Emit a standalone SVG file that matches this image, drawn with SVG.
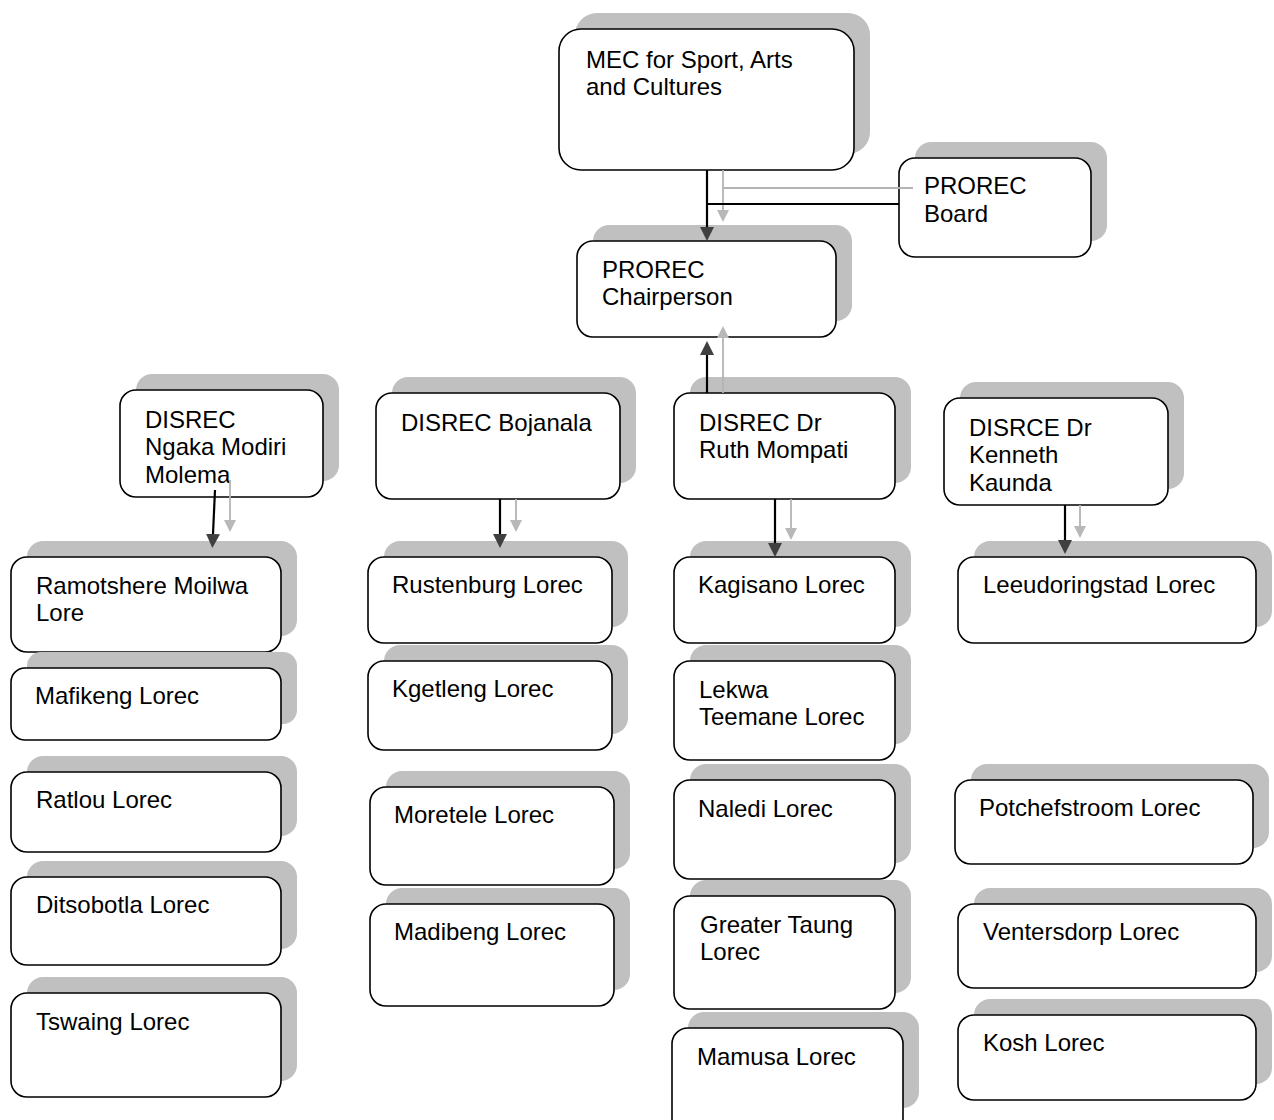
<svg xmlns="http://www.w3.org/2000/svg" width="1274" height="1120" viewBox="0 0 1274 1120">
<style>
.sh{fill:#c0c0c0}
.bx{fill:#fff;stroke:#000;stroke-width:1.6}
text{font-family:"Liberation Sans",Arial,sans-serif;font-size:24px;fill:#000}
.k{stroke:#000;stroke-width:2.2;fill:none}
.g{stroke:#b4b4b4;stroke-width:1.8;fill:none}
</style>
<defs>
<marker id="ak" markerUnits="userSpaceOnUse" markerWidth="14" markerHeight="14" refX="0" refY="7" orient="auto"><path d="M0,0 L14,7 L0,14 z" fill="#404040"/></marker>
<marker id="ag" markerUnits="userSpaceOnUse" markerWidth="12" markerHeight="12" refX="0" refY="6" orient="auto"><path d="M0,0 L12,6 L0,12 z" fill="#b8b8b8"/></marker>
</defs>
<rect width="1274" height="1120" fill="#fff"/>

<g id="mec"><rect class="sh" x="575" y="13" width="295" height="141" rx="22"/><rect class="bx" x="559" y="29" width="295" height="141" rx="22"/><text x="586" y="68">MEC for Sport, Arts</text><text x="586" y="95">and Cultures</text></g>
<g id="board"><rect class="sh" x="915" y="142" width="192" height="99" rx="16"/><rect class="bx" x="899" y="158" width="192" height="99" rx="16"/><text x="924" y="194">PROREC</text><text x="924" y="222">Board</text></g>
<g id="chair"><rect class="sh" x="593" y="225" width="259" height="96" rx="16"/><rect class="bx" x="577" y="241" width="259" height="96" rx="16"/><text x="602" y="278">PROREC</text><text x="602" y="305">Chairperson</text></g>

<g id="disrec-nmm"><rect class="sh" x="136" y="374" width="203" height="107" rx="16"/><rect class="bx" x="120" y="390" width="203" height="107" rx="16"/><text x="145" y="428">DISREC</text><text x="145" y="455">Ngaka Modiri</text><text x="145" y="483">Molema</text></g>
<g id="disrec-boj"><rect class="sh" x="392" y="377" width="244" height="106" rx="16"/><rect class="bx" x="376" y="393" width="244" height="106" rx="16"/><text x="401" y="431">DISREC Bojanala</text></g>
<g id="disrec-rm"><rect class="sh" x="690" y="377" width="221" height="106" rx="16"/><rect class="bx" x="674" y="393" width="221" height="106" rx="16"/><text x="699" y="431">DISREC Dr</text><text x="699" y="458">Ruth Mompati</text></g>
<g id="disrce-kk"><rect class="sh" x="960" y="382" width="224" height="107" rx="16"/><rect class="bx" x="944" y="398" width="224" height="107" rx="16"/><text x="969" y="436">DISRCE Dr</text><text x="969" y="463">Kenneth</text><text x="969" y="491">Kaunda</text></g>

<g id="ramotshere"><rect class="sh" x="27" y="541" width="270" height="95" rx="16"/><rect class="bx" x="11" y="557" width="270" height="95" rx="16"/><text x="36" y="594">Ramotshere Moilwa</text><text x="36" y="621">Lore</text></g>
<g id="mafikeng"><rect class="sh" x="27" y="652" width="270" height="72" rx="14"/><rect class="bx" x="11" y="668" width="270" height="72" rx="14"/><text x="35" y="704">Mafikeng Lorec</text></g>
<g id="ratlou"><rect class="sh" x="27" y="756" width="270" height="80" rx="16"/><rect class="bx" x="11" y="772" width="270" height="80" rx="16"/><text x="36" y="808">Ratlou Lorec</text></g>
<g id="ditsobotla"><rect class="sh" x="27" y="861" width="270" height="88" rx="16"/><rect class="bx" x="11" y="877" width="270" height="88" rx="16"/><text x="36" y="913">Ditsobotla Lorec</text></g>
<g id="tswaing"><rect class="sh" x="27" y="977" width="270" height="104" rx="16"/><rect class="bx" x="11" y="993" width="270" height="104" rx="16"/><text x="36" y="1030">Tswaing Lorec</text></g>

<g id="rustenburg"><rect class="sh" x="384" y="541" width="244" height="86" rx="16"/><rect class="bx" x="368" y="557" width="244" height="86" rx="16"/><text x="392" y="593">Rustenburg Lorec</text></g>
<g id="kgetleng"><rect class="sh" x="384" y="645" width="244" height="89" rx="16"/><rect class="bx" x="368" y="661" width="244" height="89" rx="16"/><text x="392" y="697">Kgetleng Lorec</text></g>
<g id="moretele"><rect class="sh" x="386" y="771" width="244" height="98" rx="16"/><rect class="bx" x="370" y="787" width="244" height="98" rx="16"/><text x="394" y="823">Moretele Lorec</text></g>
<g id="madibeng"><rect class="sh" x="386" y="888" width="244" height="102" rx="16"/><rect class="bx" x="370" y="904" width="244" height="102" rx="16"/><text x="394" y="940">Madibeng Lorec</text></g>

<g id="kagisano"><rect class="sh" x="690" y="541" width="221" height="86" rx="16"/><rect class="bx" x="674" y="557" width="221" height="86" rx="16"/><text x="698" y="593">Kagisano Lorec</text></g>
<g id="lekwa"><rect class="sh" x="690" y="645" width="221" height="99" rx="16"/><rect class="bx" x="674" y="661" width="221" height="99" rx="16"/><text x="699" y="698">Lekwa</text><text x="699" y="725">Teemane Lorec</text></g>
<g id="naledi"><rect class="sh" x="690" y="764" width="221" height="99" rx="16"/><rect class="bx" x="674" y="780" width="221" height="99" rx="16"/><text x="698" y="817">Naledi Lorec</text></g>
<g id="greater-taung"><rect class="sh" x="690" y="880" width="221" height="113" rx="16"/><rect class="bx" x="674" y="896" width="221" height="113" rx="16"/><text x="700" y="933">Greater Taung</text><text x="700" y="960">Lorec</text></g>
<g id="mamusa"><rect class="sh" x="688" y="1012" width="231" height="96" rx="16"/><rect class="bx" x="672" y="1028" width="231" height="110" rx="16"/><text x="697" y="1065">Mamusa Lorec</text></g>

<g id="leeudoringstad"><rect class="sh" x="974" y="541" width="298" height="86" rx="16"/><rect class="bx" x="958" y="557" width="298" height="86" rx="16"/><text x="983" y="593">Leeudoringstad Lorec</text></g>
<g id="potchefstroom"><rect class="sh" x="971" y="764" width="298" height="84" rx="16"/><rect class="bx" x="955" y="780" width="298" height="84" rx="16"/><text x="979" y="816">Potchefstroom Lorec</text></g>
<g id="ventersdorp"><rect class="sh" x="974" y="888" width="298" height="84" rx="16"/><rect class="bx" x="958" y="904" width="298" height="84" rx="16"/><text x="983" y="940">Ventersdorp Lorec</text></g>
<g id="kosh"><rect class="sh" x="974" y="999" width="298" height="85" rx="16"/><rect class="bx" x="958" y="1015" width="298" height="85" rx="16"/><text x="983" y="1051">Kosh Lorec</text></g>

<g id="connectors">
<path class="k" d="M707,170 V227" marker-end="url(#ak)"/>
<path class="g" d="M723,170 V210" marker-end="url(#ag)"/>
<path class="g" d="M723,188 H913"/>
<path class="k" d="M707,204 H899"/>
<path class="k" d="M707,393 V355" marker-end="url(#ak)"/>
<path class="g" d="M723,393 V338" marker-end="url(#ag)"/>
<path class="k" d="M215,490 L213,534" marker-end="url(#ak)"/>
<path class="g" d="M230,480 V520" marker-end="url(#ag)"/>
<path class="k" d="M500,499 V534" marker-end="url(#ak)"/>
<path class="g" d="M516,499 V520" marker-end="url(#ag)"/>
<path class="k" d="M775,499 V543" marker-end="url(#ak)"/>
<path class="g" d="M791,499 V528" marker-end="url(#ag)"/>
<path class="k" d="M1065,505 V540" marker-end="url(#ak)"/>
<path class="g" d="M1080,505 V526" marker-end="url(#ag)"/>
</g>
</svg>
